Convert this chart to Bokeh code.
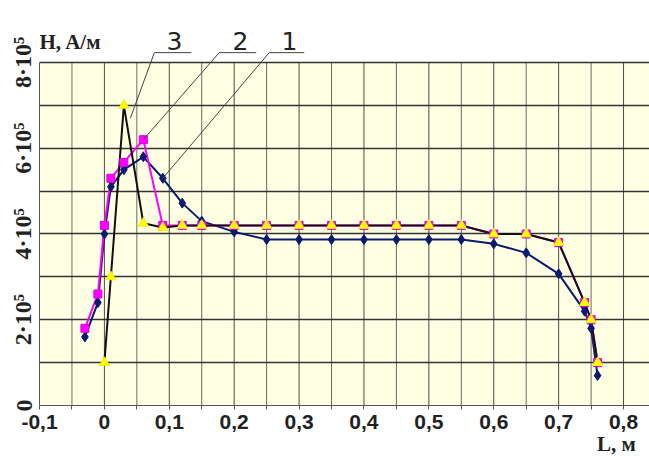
from bokeh.plotting import figure
from bokeh.models import FixedTicker, Range1d, Label, Arrow, LinearAxis
from bokeh.embed import file_html
from bokeh.resources import INLINE

# ---- data ----
L1 = [-0.03, -0.01, 0.0, 0.01, 0.03, 0.06, 0.09, 0.12, 0.15, 0.2, 0.25, 0.3, 0.35, 0.4,
      0.45, 0.5, 0.55, 0.6, 0.65, 0.7, 0.74, 0.75, 0.76]
H1 = [1.6e5, 2.4e5, 4.0e5, 5.1e5, 5.5e5, 5.8e5, 5.3e5, 4.72e5, 4.3e5, 4.05e5, 3.87e5, 3.87e5,
      3.87e5, 3.87e5, 3.87e5, 3.87e5, 3.87e5, 3.77e5, 3.56e5, 3.07e5, 2.2e5, 1.8e5, 0.7e5]

L2 = [-0.03, -0.01, 0.0, 0.01, 0.03, 0.06, 0.09, 0.12, 0.15, 0.2, 0.25, 0.3, 0.35, 0.4,
      0.45, 0.5, 0.55, 0.6, 0.65, 0.7, 0.74, 0.75, 0.76]
H2 = [1.8e5, 2.6e5, 4.2e5, 5.3e5, 5.67e5, 6.2e5, 4.2e5, 4.2e5, 4.2e5, 4.2e5, 4.2e5, 4.2e5,
      4.2e5, 4.2e5, 4.2e5, 4.2e5, 4.2e5, 4.0e5, 4.0e5, 3.8e5, 2.4e5, 2.0e5, 1.0e5]

L3 = [0.0, 0.01, 0.03, 0.06, 0.09, 0.12, 0.15, 0.2, 0.25, 0.3, 0.35, 0.4, 0.45, 0.5, 0.55,
      0.6, 0.65, 0.7, 0.74, 0.75, 0.76]
H3 = [1.0e5, 3.0e5, 7.0e5, 4.25e5, 4.15e5, 4.2e5, 4.2e5, 4.2e5, 4.2e5, 4.2e5, 4.2e5, 4.2e5,
      4.2e5, 4.2e5, 4.2e5, 4.0e5, 4.0e5, 3.8e5, 2.4e5, 2.0e5, 1.0e5]

x_ticks = [-0.1, 0.0, 0.1, 0.2, 0.3, 0.4, 0.5, 0.6, 0.7, 0.8]
x_tick_labels = ["-0,1", "0", "0,1", "0,2", "0,3", "0,4", "0,5", "0,6", "0,7", "0,8"]
x_minor = [-0.05, 0.05, 0.15, 0.25, 0.35, 0.45, 0.55, 0.65, 0.75]
y_ticks = [0, 200000, 400000, 600000, 800000]
y_tick_labels = ["0", "2·10⁵", "4·10⁵", "6·10⁵", "8·10⁵"]
y_minor = [100000, 300000, 500000, 700000]

curve_names = ["1", "2", "3"]
x_title = "L, м"
y_title = "H, A/м"

X0, X1 = -0.1, 0.84
Y0, YTOP, Y1 = 0, 8e5, 9.446e5

p = figure(width=649, height=459, x_range=Range1d(X0, X1), y_range=Range1d(Y0, Y1),
           output_backend="svg", toolbar_location=None,
           min_border_left=39, min_border_right=0, min_border_top=0, min_border_bottom=54)

p.background_fill_color = "white"
p.border_fill_color = "white"
p.outline_line_color = None

# plot-area background (cream) below the top gridline
p.quad(left=[X0], right=[X1], bottom=[Y0], top=[YTOP], fill_color="#FFFFE3",
       line_color=None, level="image")

# vertical gridlines limited to the plot area
vx_major = [t for t in x_ticks if t > X0]
p.segment(x0=vx_major, y0=[Y0] * len(vx_major), x1=vx_major, y1=[YTOP] * len(vx_major),
          line_color="#4a4a4a", line_width=1, level="underlay")
p.segment(x0=x_minor, y0=[Y0] * len(x_minor), x1=x_minor, y1=[YTOP] * len(x_minor),
          line_color="#6a6a6a", line_width=1, level="underlay")
p.xgrid.visible = False

p.xaxis.ticker = FixedTicker(ticks=x_ticks, minor_ticks=x_minor)
p.yaxis.ticker = FixedTicker(ticks=y_ticks, minor_ticks=y_minor)
p.xaxis.major_label_overrides = {t: s for t, s in zip(x_ticks, x_tick_labels)}
p.yaxis.major_label_overrides = {t: s for t, s in zip(y_ticks, y_tick_labels)}
p.yaxis.bounds = (Y0, YTOP)

p.xaxis.major_label_text_font = "Liberation Sans"
p.xaxis.major_label_text_font_style = "bold"
p.xaxis.major_label_text_font_size = "21px"
p.xaxis.major_label_text_color = "#222222"
p.xaxis.major_tick_out = 4
p.xaxis.major_tick_in = 0
p.xaxis.minor_tick_out = 4
p.xaxis.minor_tick_in = 0
p.xaxis.major_label_standoff = 5
p.xaxis.axis_line_color = "#555555"
p.xaxis.major_tick_line_color = "#555555"
p.xaxis.minor_tick_line_color = "#555555"

p.yaxis.major_label_text_font = "Liberation Serif"
p.yaxis.major_label_text_font_style = "bold"
p.yaxis.major_label_text_font_size = "24px"
p.yaxis.major_label_text_color = "#222222"
p.yaxis.major_label_orientation = "vertical"
p.yaxis.major_tick_out = 0
p.yaxis.major_tick_in = 0
p.yaxis.minor_tick_out = 0
p.yaxis.minor_tick_in = 0
p.yaxis.major_label_standoff = 3
p.yaxis.axis_line_color = "#555555"

p.ygrid.grid_line_color = "#333333"
p.ygrid.grid_line_width = 1.5
p.ygrid.minor_grid_line_color = "#333333"
p.ygrid.minor_grid_line_width = 1.5

# x-axis title as a second, tick-less axis below, right-hand side
title_pos = 0.789
ax2 = LinearAxis(ticker=FixedTicker(ticks=[title_pos]),
                 major_label_overrides={title_pos: x_title},
                 axis_line_color=None, major_tick_line_color=None, minor_tick_line_color=None,
                 major_tick_out=0, major_tick_in=0, minor_tick_out=0, minor_tick_in=0,
                 major_label_standoff=0,
                 major_label_text_font="Liberation Serif", major_label_text_font_style="bold",
                 major_label_text_font_size="21px", major_label_text_color="#222222")
p.add_layout(ax2, "below")

# curves
p.line(L1, H1, line_color="#0A1A6E", line_width=2)
p.line(L2, H2, line_color="#FF00FF", line_width=2)
p.line(L3, H3, line_color="#111111", line_width=2)
p.scatter(L1, H1, marker="diamond", size=10, fill_color="#0A1A6E", line_color="#0A1A6E")
p.scatter(L2, H2, marker="square", size=8, fill_color="#FF00FF", line_color="#E000E0")
p.scatter(L3, H3, marker="triangle", size=10, fill_color="#FFFF00", line_color="#F0F000")

# leader lines with curve numbers
y_line = 8.23e5
leaders = [
    (curve_names[2], 0.077, 0.134, 0.04, 6.7e5, 0.108),
    (curve_names[1], 0.177, 0.234, L2[5], H2[5], 0.2095),
    (curve_names[0], 0.254, 0.308, L1[6], H1[6], 0.285),
]
for name, xa, xb, xe, ye, xt in leaders:
    p.add_layout(Arrow(end=None, x_start=xa, y_start=y_line, x_end=xb, y_end=y_line,
                       line_color="#444444", line_width=1))
    p.add_layout(Arrow(end=None, x_start=xa, y_start=y_line, x_end=xe, y_end=ye,
                       line_color="#444444", line_width=1))
    p.add_layout(Label(x=xt, y=8.49e5, text=name, text_align="center",
                       text_baseline="alphabetic", text_font="DejaVu Sans",
                       text_font_size="25px", text_color="#222222"))

p.add_layout(Label(x=-0.1, y=8.47e5, text=y_title, text_align="left",
                   text_baseline="alphabetic", text_font="Liberation Serif",
                   text_font_style="bold", text_font_size="21px", text_color="#222222"))

open("out.html", "w").write(file_html(p, INLINE))
